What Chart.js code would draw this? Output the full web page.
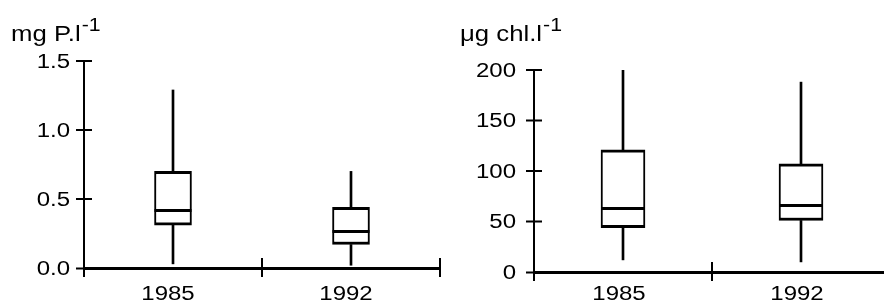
<!DOCTYPE html>
<html><head><meta charset="utf-8">
<script src="https://cdn.jsdelivr.net/npm/chart.js@4.4.0/dist/chart.umd.min.js"></script>
<style>
html,body{margin:0;padding:0;background:#fff;overflow:hidden;width:884px;height:304px;}
.wrap{position:absolute;top:0;width:450px;height:304px;}
canvas{display:block;}
</style></head><body>
<div class="wrap" style="left:0"><canvas id="c1" width="450" height="304"></canvas></div>
<div class="wrap" style="left:450px"><canvas id="c2" width="450" height="304"></canvas></div>
<script>
const categories = ['1985', '1992'];

// Total phosphorus (mg P.l-1)
const pMin    = [0.03, 0.02];
const pQ1     = [0.31, 0.17];
const pMedian = [0.42, 0.27];
const pQ3     = [0.70, 0.44];
const pMax    = [1.29, 0.70];
const pTicks      = [0, 0.5, 1.0, 1.5];
const pTickLabels = ['0.0', '0.5', '1.0', '1.5'];

// Chlorophyll (µg chl.l-1)
const cMin    = [12, 10];
const cQ1     = [44, 51];
const cMedian = [63, 66];
const cQ3     = [121, 107];
const cMax    = [200, 188];
const cTicks      = [0, 50, 100, 150, 200];
const cTickLabels = ['0', '50', '100', '150', '200'];

const FONT = '"Liberation Sans", Arial, sans-serif';

function stretchText(ctx, text, x, y, sx, align, baseline) {
  ctx.save();
  ctx.translate(x, y);
  ctx.scale(sx, 1);
  ctx.textAlign = align;
  ctx.textBaseline = baseline;
  ctx.fillText(text, 0, 0);
  ctx.restore();
}

function decorPlugin(cfg) {
  return {
    id: 'decor',
    afterDatasetsDraw(chart) {
      const ctx = chart.ctx, xs = chart.scales.x, ys = chart.scales.y, area = chart.chartArea;
      ctx.save();
      ctx.strokeStyle = '#000';
      ctx.fillStyle = '#000';
      ctx.lineCap = 'butt';
      // medians
      ctx.lineWidth = 3;
      const meta = chart.getDatasetMeta(2);
      meta.data.forEach((bar, i) => {
        const y = Math.round(ys.getPixelForValue(cfg.median[i])) + 0.5;
        const half = bar.width / 2;
        ctx.beginPath();
        ctx.moveTo(bar.x - half, y);
        ctx.lineTo(bar.x + half, y);
        ctx.stroke();
      });
      // axes
      const x0 = area.left;
      const yb = ys.getPixelForValue(0);
      const yt = ys.getPixelForValue(cfg.ticks[cfg.ticks.length - 1]);
      ctx.lineWidth = 2;
      ctx.beginPath();
      ctx.moveTo(x0, yt - 1); ctx.lineTo(x0, yb + 9);
      for (let i = 0; i < categories.length; i++) {
        const bx = xs.getPixelForValue(i + 0.5);
        ctx.moveTo(bx, yb - 10); ctx.lineTo(bx, yb + 9);
      }
      ctx.stroke();
      ctx.lineWidth = 3;
      ctx.beginPath();
      ctx.moveTo(x0 - 1, yb + 0.5); ctx.lineTo(area.right + 1, yb + 0.5);
      ctx.stroke();
      ctx.lineWidth = 2;
      ctx.beginPath();
      cfg.ticks.forEach(v => {
        const y = ys.getPixelForValue(v);
        if (v === 0) { ctx.moveTo(x0 - 8, y + 0.5); ctx.lineTo(x0, y + 0.5); }
        else { ctx.moveTo(x0 - 8, y); ctx.lineTo(x0 + 8, y); }
      });
      ctx.stroke();
      // tick labels
      ctx.font = '20px ' + FONT;
      cfg.ticks.forEach((v, i) => {
        stretchText(ctx, cfg.tickLabels[i], x0 - cfg.labelGap, ys.getPixelForValue(v) + 1, 1.2, 'right', 'middle');
      });
      categories.forEach((c, i) => {
        stretchText(ctx, c, xs.getPixelForValue(i) + cfg.catOffset, 300, 1.2, 'center', 'alphabetic');
      });
      // title with superscript
      ctx.font = '22px ' + FONT;
      const w = ctx.measureText(cfg.title).width * 1.17;
      stretchText(ctx, cfg.title, cfg.titleX, 41, 1.17, 'left', 'alphabetic');
      ctx.font = '19px ' + FONT;
      stretchText(ctx, '-1', cfg.titleX + w + 1, 31, 1.12, 'left', 'alphabetic');
      ctx.restore();
    }
  };
}

function makeChart(id, cfg) {
  const bottom = cfg.bottom;
  return new Chart(document.getElementById(id), {
    type: 'bar',
    data: {
      labels: categories,
      datasets: [
        { data: categories.map((c, i) => [cfg.min[i], cfg.q1[i]]), backgroundColor: '#000', borderWidth: 0, barThickness: 2, grouped: false, order: 2 },
        { data: categories.map((c, i) => [cfg.q3[i], cfg.max[i]]), backgroundColor: '#000', borderWidth: 0, barThickness: 2, grouped: false, order: 2 },
        { data: categories.map((c, i) => [cfg.q1[i], cfg.q3[i]]), backgroundColor: '#fff', borderColor: '#000',
          borderWidth: { top: 3, bottom: 3, left: 2, right: 2 }, borderSkipped: false, barThickness: cfg.boxWidth, grouped: false, order: 1 }
      ]
    },
    options: {
      responsive: false,
      animation: false,
      events: [],
      layout: { padding: { top: cfg.top, right: 10, left: 0, bottom: 0 } },
      plugins: { legend: { display: false }, tooltip: { enabled: false } },
      scales: {
        x: {
          type: 'category',
          offset: true,
          grid: { display: false, offset: true },
          border: { display: false },
          ticks: { display: false },
          afterFit: s => { s.height = 304 - bottom; }
        },
        y: {
          type: 'linear',
          min: 0,
          max: cfg.ticks[cfg.ticks.length - 1],
          grid: { display: false },
          border: { display: false },
          ticks: { display: false },
          afterFit: s => { s.width = 84; }
        }
      }
    },
    plugins: [decorPlugin(cfg)]
  });
}

makeChart('c1', {
  min: pMin, q1: pQ1, median: pMedian, q3: pQ3, max: pMax,
  ticks: pTicks, tickLabels: pTickLabels,
  top: 61, bottom: 268, boxWidth: 37, labelGap: 14, catOffset: -5,
  title: 'mg P.l', titleX: 11
});
makeChart('c2', {
  min: cMin, q1: cQ1, median: cMedian, q3: cQ3, max: cMax,
  ticks: cTicks, tickLabels: cTickLabels,
  top: 70, bottom: 272, boxWidth: 44, labelGap: 18, catOffset: -4,
  title: 'μg chl.l', titleX: 10
});
</script>
</body></html>
